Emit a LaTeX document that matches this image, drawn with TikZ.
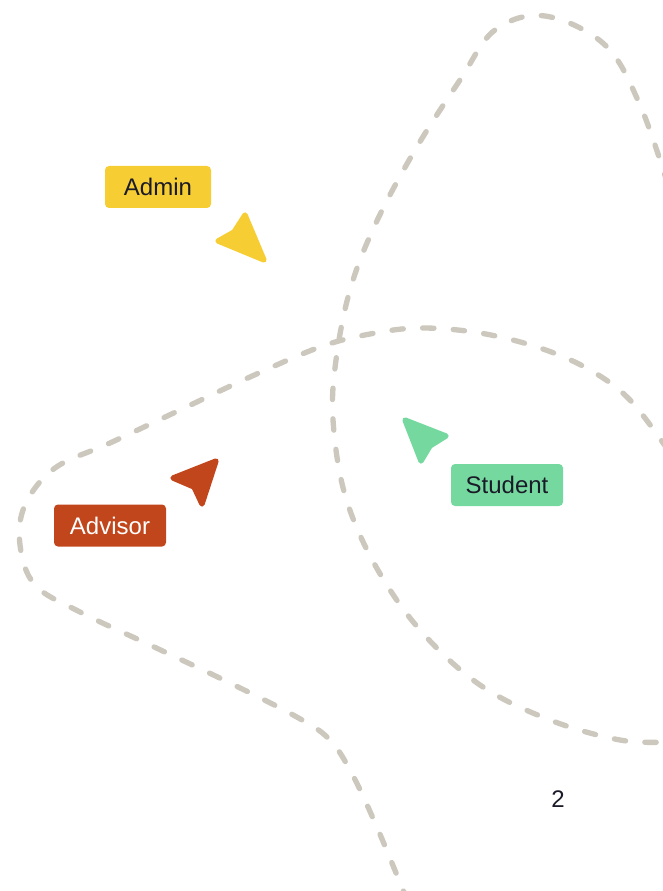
\documentclass[tikz,border=0pt]{standalone}
\usepackage{fontspec}
\setmainfont{Liberation Sans}
\usepackage{tikz}
\usetikzlibrary{positioning,calc}
\usepackage{xcolor}

\definecolor{admincol}{RGB}{246,206,52}
\definecolor{advisorcol}{RGB}{194,70,28}
\definecolor{studentcol}{RGB}{117,217,159}
\definecolor{pathcol}{RGB}{204,200,189}
\definecolor{inkcol}{RGB}{26,26,40}

\begin{document}
\begin{tikzpicture}[x=0.75pt,y=-0.75pt,
    tag/.style={rounded corners=3pt, minimum height=31.5pt, inner xsep=8pt, font=\fontsize{18}{20}\selectfont},
    cursor/.style={line width=4pt, line join=round},
    trail/.style={pathcol, line width=4pt, line cap=round, dash pattern=on 8.5pt off 14.5pt}]
            \useasboundingbox (0,0) rectangle (662,891);

            % dashed trails
            \draw[trail] plot[smooth, tension=0.6] coordinates {(668,185) (640,105) (605,45) (545,16) (495,30) (460,80) (415,150) (375,225) (350,290) (336,360) (333,420) (345,495) (375,565) (420,630) (480,685) (550,720) (620,740) (668,742)};
            \draw[trail] plot[smooth, tension=0.6] coordinates {(668,450) (630,400) (590,370) (540,348) (480,333) (420,328) (370,334) (320,347) (250,377) (180,410) (110,443) (55,468) (25,505) (20,545) (35,585) (80,612) (150,645) (230,683) (295,716) (328,738) (350,770) (376,825) (405,895)};

            % cursors
            \filldraw[cursor, fill=admincol, draw=admincol] (264,260) -- (245,215) -- (234,232) -- (218,241) -- cycle;
            \filldraw[cursor, fill=advisorcol, draw=advisorcol] (216,461) -- (173,478) -- (194,487) -- (202,504) -- cycle;
            \filldraw[cursor, fill=studentcol, draw=studentcol] (405,420) -- (446,436) -- (430,446) -- (421,461) -- cycle;

            % labels
            \node[tag, minimum width=79.5pt, fill=admincol, text=inkcol] (admin) at (158,187) {Admin};
            \node[tag, minimum width=84pt, fill=advisorcol, text=white] (advisor) at (110,525.5) {Advisor};
            \node[tag, minimum width=84pt, fill=studentcol, text=inkcol] (student) at (507,485) {Student};

            \node[text=inkcol, font=\fontsize{18}{20}\selectfont] (count) at (558,799) {2};
        \end{tikzpicture}
\end{document}
